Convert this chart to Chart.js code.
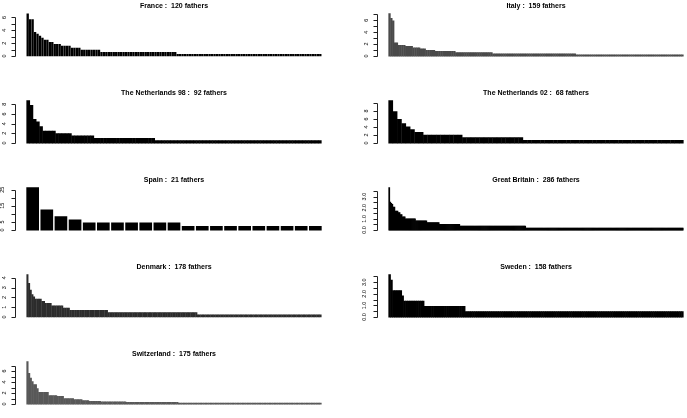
<!DOCTYPE html>
<html>
<head>
<meta charset="utf-8">
<script src="https://cdn.jsdelivr.net/npm/chart.js@4.4.1/dist/chart.umd.min.js"></script>
<style>
  html, body { margin: 0; padding: 0; background: #fff; }
  body { position: relative; width: 687px; height: 418px; overflow: hidden; }
  canvas { position: absolute; }
</style>
</head>
<body>
<script>
// panel titles
const panelNames = ['France', 'Italy', 'The Netherlands 98', 'The Netherlands 02', 'Spain',
  'Great Britain', 'Denmark', 'Sweden', 'Switzerland'];
const fatherCounts = [120, 159, 92, 68, 21, 286, 178, 158, 175];

// bar heights, as (level, how many fathers at that level)
const franceLevels = [6.57, 5.65, 3.7, 3.4, 3.12, 2.8, 2.5, 2.15, 1.84, 1.55, 1.23, 0.92, 0.58, 0.28];
const franceCounts = [1, 2, 1, 1, 1, 1, 2, 2, 3, 4, 4, 8, 31, 59];

const italyLevels = [7.1, 6.3, 5.9, 2.2, 1.8, 1.6, 1.36, 1.18, 0.96, 0.77, 0.58, 0.36, 0.17];
const italyCounts = [1, 1, 1, 2, 4, 4, 4, 3, 5, 11, 20, 45, 58];

const nl98Levels = [8.73, 7.76, 4.85, 4.37, 3.4, 2.43, 1.94, 1.46, 0.97, 0.49];
const nl98Counts = [1, 1, 1, 1, 1, 4, 5, 7, 19, 52];

const nl02Levels = [10.56, 7.85, 5.9, 4.8, 4.03, 3.33, 2.64, 1.97, 1.32, 0.66];
const nl02Counts = [1, 1, 1, 1, 1, 1, 2, 9, 14, 37];

const spainLevels = [26.2, 12.4, 8.3, 6.2, 4.3, 2.2];
const spainCounts = [1, 1, 1, 1, 7, 10];

const gbLevels = [3.8, 2.5, 2.4, 2.3, 2.05, 1.7, 1.55, 1.38, 1.18, 1.0, 0.82, 0.65, 0.5, 0.34, 0.17];
const gbCounts = [1, 1, 1, 1, 2, 3, 2, 2, 3, 10, 11, 12, 20, 64, 153];

const denmarkLevels = [4.32, 3.43, 2.74, 2.3, 2.07, 1.84, 1.6, 1.4, 1.15, 0.92, 0.69, 0.46, 0.22];
const denmarkCounts = [1, 1, 1, 1, 1, 4, 2, 4, 7, 4, 23, 54, 75];

const swedenLevels = [3.65, 3.19, 2.28, 1.82, 1.37, 0.91, 0.46];
const swedenCounts = [1, 1, 5, 1, 11, 22, 117];

const swissLevels = [7.7, 5.58, 4.7, 4.05, 3.5, 2.8, 2.1, 1.54, 1.38, 0.96, 0.8, 0.62, 0.47, 0.37, 0.27, 0.15];
const swissCounts = [1, 1, 1, 1, 2, 1, 6, 5, 4, 6, 5, 4, 7, 15, 31, 85];

// y axis ticks and their labels ('' = tick without label)
const franceTicks = [0, 1, 2, 3, 4, 5, 6];
const franceTickLabels = ['0', '', '2', '', '4', '', '6'];
const italyTicks = [0, 1, 2, 3, 4, 5, 6, 7];
const italyTickLabels = ['0', '', '2', '', '4', '', '6', ''];
const nl98Ticks = [0, 2, 4, 6, 8];
const nl98TickLabels = ['0', '2', '4', '6', '8'];
const nl02Ticks = [0, 2, 4, 6, 8, 10];
const nl02TickLabels = ['0', '2', '4', '6', '8', ''];
const spainTicks = [0, 5, 10, 15, 20, 25];
const spainTickLabels = ['0', '5', '', '15', '', '25'];
const gbTicks = [0, 0.5, 1, 1.5, 2, 2.5, 3, 3.5];
const gbTickLabels = ['0.0', '', '1.0', '', '2.0', '', '3.0', ''];
const denmarkTicks = [0, 1, 2, 3, 4];
const denmarkTickLabels = ['0', '1', '2', '3', '4'];
const swedenTicks = [0, 0.5, 1, 1.5, 2, 2.5, 3, 3.5];
const swedenTickLabels = ['0.0', '', '1.0', '', '2.0', '', '3.0', ''];
const swissTicks = [0, 1, 2, 3, 4, 5, 6, 7];
const swissTickLabels = ['0', '', '2', '', '4', '', '6', ''];

const FONT = "'Liberation Sans', Arial, Helvetica, sans-serif";
const PANEL_W = 333, PANEL_H = 66, AXIS_W = 15, TICK_LEN = 4;
const COL_X = [0, 362];
const ROW_STEP = 87;

// bar = bar width as share of a slot, grow = extra px round each bar (R draws an outline)
const panels = [
  { levels: franceLevels, counts: franceCounts, ticks: franceTicks, labels: franceTickLabels, color: '#000', bar: 0.75, grow: 0.25 },
  { levels: italyLevels, counts: italyCounts, ticks: italyTicks, labels: italyTickLabels, color: '#4a4a4a', bar: 0.8, grow: 0.4 },
  { levels: nl98Levels, counts: nl98Counts, ticks: nl98Ticks, labels: nl98TickLabels, color: '#000', bar: 0.9, grow: 0.4 },
  { levels: nl02Levels, counts: nl02Counts, ticks: nl02Ticks, labels: nl02TickLabels, color: '#000', bar: 0.9, grow: 0.4 },
  { levels: spainLevels, counts: spainCounts, ticks: spainTicks, labels: spainTickLabels, color: '#000', bar: 0.833, grow: 0.45 },
  { levels: gbLevels, counts: gbCounts, ticks: gbTicks, labels: gbTickLabels, color: '#000', bar: 0.9, grow: 0.4 },
  { levels: denmarkLevels, counts: denmarkCounts, ticks: denmarkTicks, labels: denmarkTickLabels, color: '#2c2c2c', bar: 0.8, grow: 0.35 },
  { levels: swedenLevels, counts: swedenCounts, ticks: swedenTicks, labels: swedenTickLabels, color: '#000', bar: 0.9, grow: 0.4 },
  { levels: swissLevels, counts: swissCounts, ticks: swissTicks, labels: swissTickLabels, color: '#585858', bar: 0.8, grow: 0.4 }
];

function expand(levels, counts) {
  const out = [];
  levels.forEach((v, i) => {
    for (let k = 0; k < counts[i]; k++) out.push(v);
  });
  return out;
}

// R style axis: line only from first to last tick, short ticks to the left
const axisLine = {
  id: 'axisLine',
  afterDraw(chart) {
    const s = chart.scales.y;
    const ctx = chart.ctx;
    const x = Math.round(chart.chartArea.left - 0.5) + 0.5;
    const y0 = s.getPixelForValue(s.ticks[0].value);
    const y1 = s.getPixelForValue(s.ticks[s.ticks.length - 1].value);
    ctx.save();
    ctx.strokeStyle = '#222';
    ctx.lineWidth = 1;
    ctx.beginPath();
    ctx.moveTo(x, Math.round(y0) + 0.5);
    ctx.lineTo(x, Math.round(y1) + 0.5);
    s.ticks.forEach(t => {
      const y = Math.round(s.getPixelForValue(t.value)) + 0.5;
      ctx.moveTo(x - TICK_LEN, y);
      ctx.lineTo(x, y);
    });
    ctx.stroke();
    ctx.restore();
  }
};

panels.forEach((p, i) => {
  const values = expand(p.levels, p.counts);
  const n = values.length;
  const top = Math.max(...values);
  const span = n - 1 + p.bar;
  const pad = 0.04 * span;

  const canvas = document.createElement('canvas');
  canvas.width = PANEL_W;
  canvas.height = PANEL_H;
  canvas.style.left = COL_X[i % 2] + 'px';
  canvas.style.top = Math.floor(i / 2) * ROW_STEP + 'px';
  document.body.appendChild(canvas);

  new Chart(canvas, {
    type: 'bar',
    data: {
      datasets: [{
        data: values.map((v, k) => ({ x: k, y: v })),
        backgroundColor: p.color,
        borderWidth: 0,
        inflateAmount: p.grow,
        barPercentage: p.bar,
        categoryPercentage: 1
      }]
    },
    options: {
      responsive: false,
      animation: false,
      events: [],
      layout: { padding: 0, autoPadding: false },
      plugins: {
        legend: { display: false },
        tooltip: { enabled: false },
        title: {
          display: true,
          text: panelNames[i] + ' :  ' + fatherCounts[i] + ' fathers',
          fullSize: false,
          color: '#000',
          font: { family: FONT, size: 7, weight: 'bold', lineHeight: 1.2 },
          padding: { top: 1.6, bottom: 2 }
        }
      },
      scales: {
        x: {
          type: 'linear',
          display: false,
          offset: false,
          bounds: 'data',
          min: -p.bar / 2 - pad,
          max: n - 1 + p.bar / 2 + pad
        },
        y: {
          min: -0.04 * top,
          max: 1.04 * top,
          bounds: 'data',
          afterBuildTicks: s => { s.ticks = p.ticks.map(v => ({ value: v })); },
          afterFit: s => { s.width = AXIS_W; },
          grid: { display: false, drawTicks: true, tickLength: TICK_LEN },
          border: { display: false },
          ticks: {
            autoSkip: false,
            minRotation: 90,
            maxRotation: 90,
            crossAlign: 'center',
            padding: 5,
            color: '#000',
            font: { family: FONT, size: 5.5 },
            callback: (v, k) => p.labels[k]
          }
        }
      }
    },
    plugins: [axisLine]
  });
});
</script>
</body>
</html>
